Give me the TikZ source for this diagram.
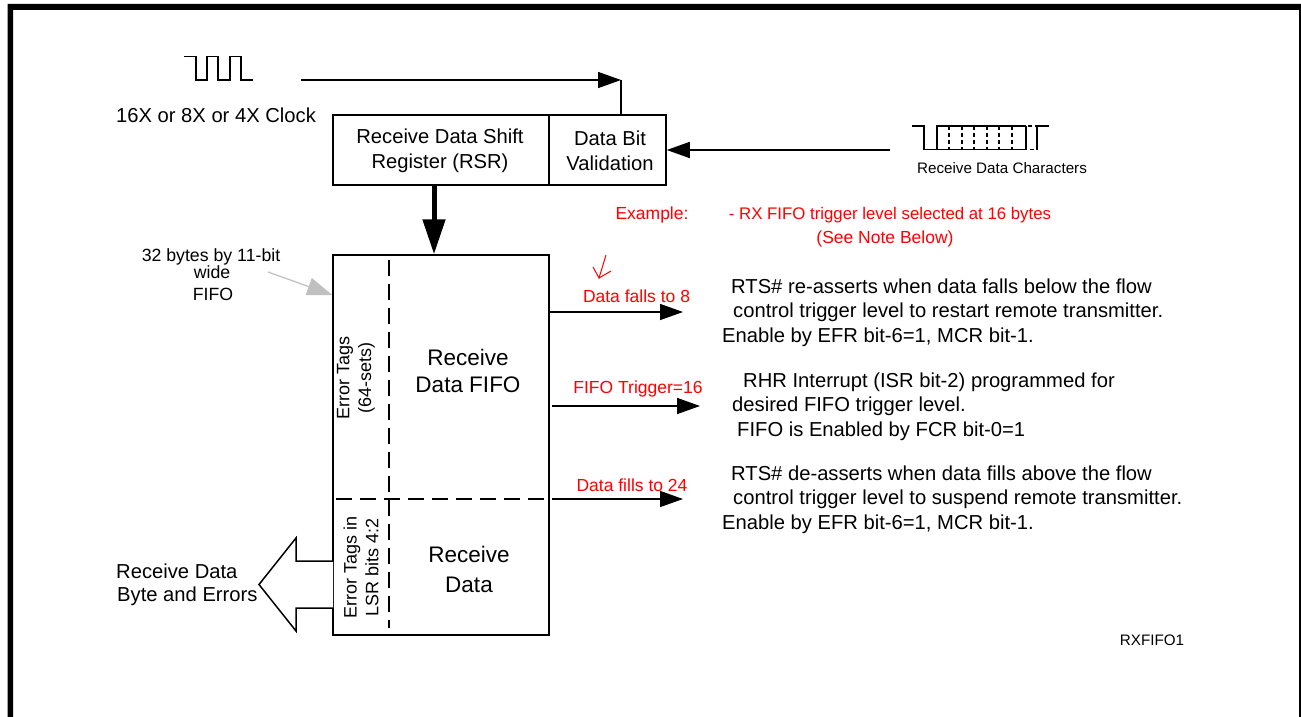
\documentclass[tikz,border=0pt]{standalone}
\usepackage{fontspec}
\setmainfont{Liberation Sans}
\usetikzlibrary{arrows.meta}
\definecolor{redtxt}{RGB}{255,0,0}
\definecolor{greyarrow}{RGB}{192,192,192}
\tikzset{
  x=1pt,y=-1pt,
  txt/.style={inner sep=0pt,font=\fontsize{20.2}{25}\selectfont,align=center},
  txtl/.style={inner sep=0pt,font=\fontsize{20.2}{24.5}\selectfont,align=left,anchor=west},
  big/.style={inner sep=0pt,font=\fontsize{22.5}{27.5}\selectfont,align=center},
  redl/.style={inner sep=0pt,font=\fontsize{17.5}{20}\selectfont,text=redtxt,align=center},
  small/.style={inner sep=0pt,font=\fontsize{15.2}{18}\selectfont,align=center},
  note/.style={inner sep=0pt,font=\fontsize{17.7}{20}\selectfont,align=center},
  tagtxt/.style={inner sep=0pt,rotate=90,font=\fontsize{18}{21.7}\selectfont,align=center},
  boxx/.style={draw,line width=1.5pt,inner sep=0pt},
  conn/.style={line width=1.5pt,-{Triangle[length=23pt,width=16pt]}},
  thin dash/.style={line width=1.5pt,dash pattern=on 15.5pt off 8.5pt},
}
\begin{document}
\begin{tikzpicture}
\useasboundingbox (0,0) rectangle (1301,717);
\fill[white] (0,0) rectangle (1301,717);
% frame
\fill[black] (7.5,717) -- (7.5,4) -- (1301,4) -- (1301,717) -- (1299,717) -- (1299,10) -- (13,10) -- (13,717) -- cycle;
% clock
\draw[line width=1.5pt] (184,56.5) -- (196,56.5) -- (196,80) -- (207,80) -- (207,56.5) -- (218,56.5) -- (218,80) -- (230,80) -- (230,56.5) -- (241,56.5) -- (241,80) -- (253,80);
\node[txt] (clk) at (216,115) {16X or 8X or 4X Clock};
% RSR boxes
\node[boxx,minimum width=216pt,minimum height=70pt] (rsr) at (441,150) {};
\node[boxx,minimum width=117pt,minimum height=70pt] (dbv) at (607.5,150) {};
\node[txt] (rsrtxt) at (440,150.5) {Receive Data Shift\\Register (RSR)};
\node[txt] (dbvtxt) at (610,150.5) {Data Bit\\Validation};
% clock arrow
\coordinate (clkstart) at (301,80);
\coordinate (clkend) at (621,80);
\draw[conn] (clkstart) -- (clkend);
\draw[line width=1.5pt] (clkend) -- (clkend |- dbv.north);
% serial data
\coordinate (rxstart) at (890,150);
\draw[conn] (rxstart) -- (dbv.east);
\draw[line width=1.5pt] (912,126) -- (924,126) -- (924,149.5) -- (1026,149.5);
\draw[line width=1.5pt] (937,149.5) -- (937,126) -- (1026,126);
\draw[line width=1.5pt] (1026,126) -- (1026,149.5);
\foreach \xx in {949,962,974,987,999,1012}
  \draw[line width=1.2pt,dash pattern=on 4pt off 3pt] (\xx,126) -- (\xx,149.5);
\draw[line width=1.2pt,dash pattern=on 4pt off 3pt] (1028,126) -- (1037,126);
\draw[line width=1.2pt,dash pattern=on 4pt off 3pt] (1030,149.5) -- (1037,149.5);
\draw[line width=1.5pt] (1037,149.5) -- (1037,126) -- (1049,126);
\node[small] (rxchars) at (1002,168) {Receive Data Characters};
% FIFO
\node[boxx,minimum width=216pt,minimum height=380pt] (fifo) at (441,445) {};
\coordinate (thick) at (434,185);
\draw[line width=5pt,-{Triangle[length=35pt,width=22pt]}] (thick) -- (thick |- fifo.north);
\draw[thin dash] (389,260) -- (389,628);
\draw[thin dash] (336,499) -- (549,499);
\node[tagtxt] (tag1) at (356,378) {Error Tags\\(64-sets)};
\node[tagtxt] (tag2) at (361,567) {Error Tags in\\LSR bits 4:2};
\node[big] (ff1) at (468,371) {Receive\\Data FIFO};
\node[big,font=\fontsize{22.5}{30}\selectfont] (ff2) at (469,569) {Receive\\Data};
% 32 bytes
\node[note] (lbl) at (211,257) {32 bytes by 11-bit};
\node[note] (lbl2) at (212,272) {wide};
\node[note] (lbl3) at (213,294) {FIFO};
\coordinate (gs) at (268,272);
\draw[line width=1.2pt,greyarrow,-{Triangle[length=25pt,width=18pt]}] (gs) -- (fifo.west |- 0,295);
% output arrow
\draw[line width=1.5pt,fill=white] (333,561) -- (296,561) -- (296,538) -- (259,584.5) -- (296,631) -- (296,608) -- (333,608);
\node[txt,anchor=west] (o1) at (116,571) {Receive Data};
\node[txt,anchor=west] (o2) at (117,596) {Byte and Errors};
% red
\node[redl] (ex) at (652,215) {Example:};
\node[redl,font=\fontsize{16.8}{20}\selectfont] (rx) at (890,215) {- RX FIFO trigger level selected at 16 bytes};
\node[redl] (see) at (885,239) {(See Note Below)};
\node[redl] (l1) at (636.5,296) {Data falls to 8};
\node[redl] (l2) at (638,389) {FIFO Trigger=16};
\node[redl] (l3) at (632,485) {Data fills to 24};
\draw[redtxt,line width=1pt] (606,255) -- (599,278) -- (593,267);
\draw[redtxt,line width=1pt] (599,278) -- (611,271);
% out arrows
\coordinate (a1) at (683,312); \coordinate (a2) at (700,406); \coordinate (a3) at (683,499);
\draw[conn] (fifo.east |- a1) -- (a1);
\draw[conn] (552,406) -- (a2);
\draw[conn] (552,499) -- (a3);
% right text
\node[txtl] (t1) at (722,312.5) {\hspace*{9pt}RTS\# re-asserts when data falls below the flow\\\hspace*{11pt}control trigger level to restart remote transmitter.\\Enable by EFR bit-6=1, MCR bit-1.};
\node[txtl] (t2) at (732,406.5) {\hspace*{11pt}RHR Interrupt (ISR bit-2) programmed for\\desired FIFO trigger level.\\\hspace*{5pt}FIFO is Enabled by FCR bit-0=1};
\node[txtl] (t3) at (722,499.5) {\hspace*{9pt}RTS\# de-asserts when data fills above the flow\\\hspace*{11pt}control trigger level to suspend remote transmitter.\\Enable by EFR bit-6=1, MCR bit-1.};
\node[small] (code) at (1152,640) {RXFIFO1};
\end{tikzpicture}
\end{document}
